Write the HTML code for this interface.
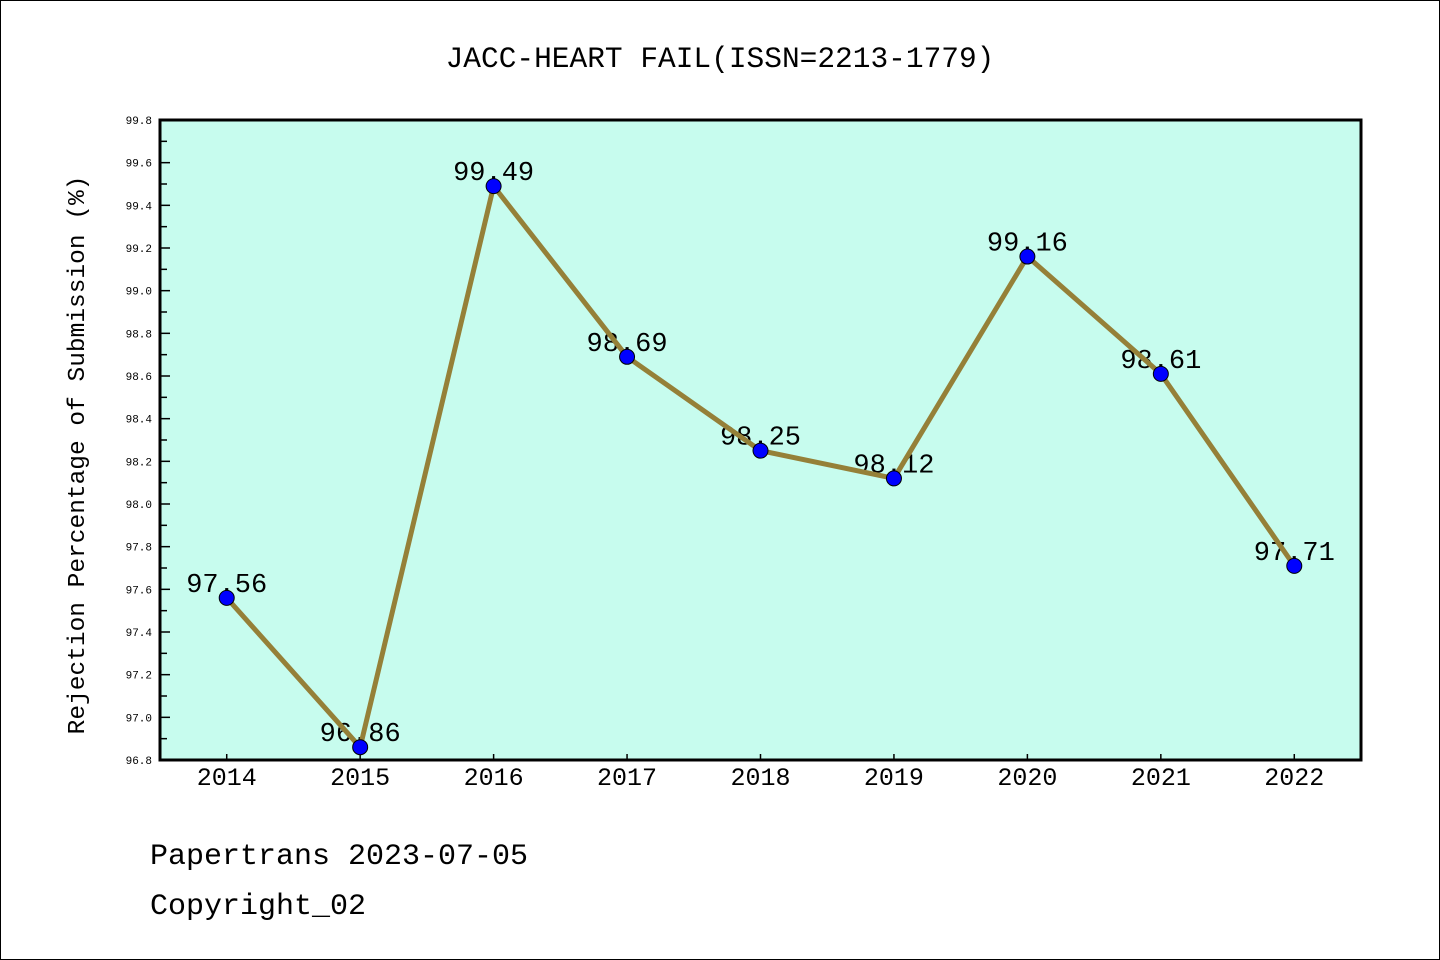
<!DOCTYPE html>
<html><head><meta charset="utf-8"><style>
html,body{margin:0;padding:0;background:#fff;}
svg{display:block;}
text{font-family:"Liberation Mono","WenQuanYi Zen Hei",monospace;fill:#000;}
</style></head><body>
<svg id="chart" width="1440" height="960" xmlns="http://www.w3.org/2000/svg">
<rect x="0.5" y="0.5" width="1439" height="959" fill="#fff" stroke="#000" stroke-width="1"/>
<text x="720" y="67" font-size="29.5" text-anchor="middle">JACC-HEART FAIL(ISSN=2213-1779)</text>
<rect x="160" y="120" width="1201" height="640" fill="#c7fcee"/>
<g id="yaxis"></g>
<g id="xaxis"></g>
<g id="series"></g>
<rect x="160" y="120" width="1201" height="640" fill="none" stroke="#000" stroke-width="3"/>
<text transform="translate(84,455) rotate(-90)" font-size="24.5" text-anchor="middle">Rejection Percentage of Submission (%)</text>
<text x="150" y="864" font-size="30">Papertrans 2023-07-05</text>
<text x="150" y="914" font-size="30">Copyright_02</text>
</svg>
<script>
const years = [2014,2015,2016,2017,2018,2019,2020,2021,2022];
const values = [97.56,96.86,99.49,98.69,98.25,98.12,99.16,98.61,97.71];
const valueLabels = ["97.56","96.86","99.49","98.69","98.25","98.12","99.16","98.61","97.71"];
const yTicks = [96.8,97.0,97.2,97.4,97.6,97.8,98.0,98.2,98.4,98.6,98.8,99.0,99.2,99.4,99.6,99.8];
const yTickLabels = ["96.8","97.0","97.2","97.4","97.6","97.8","98.0","98.2","98.4","98.6","98.8","99.0","99.2","99.4","99.6","99.8"];

const NS="http://www.w3.org/2000/svg";
const X0=160,X1=1361,Y0=120,Y1=760,XMIN=2013.5,XMAX=2022.5,YMIN=96.8,YMAX=99.8;
const xs=v=>X0+(v-XMIN)/(XMAX-XMIN)*(X1-X0);
const ys=v=>Y1-(v-YMIN)/(YMAX-YMIN)*(Y1-Y0);
function mk(tag,attrs,parent){const e=document.createElementNS(NS,tag);for(const k in attrs)e.setAttribute(k,attrs[k]);parent.appendChild(e);return e;}
const ya=document.getElementById('yaxis'),xa=document.getElementById('xaxis'),sg=document.getElementById('series');
yTicks.forEach((t,i)=>{
  const y=ys(t);
  const tk=mk('line',{x1:X0,x2:X0+10,y1:y,y2:y,stroke:'#000','stroke-width':1.5},ya);
  
  
  const lb=mk('text',{x:X0-8,y:y+4,'font-size':11,'text-anchor':'end'},ya);
  lb.textContent=yTickLabels[i];
  
  
  if(i<yTicks.length-1){
    const ym=ys(t+0.1);
    const mt=mk('line',{x1:X0,x2:X0+7,y1:ym,y2:ym,stroke:'#000','stroke-width':1.5},ya);
    
    
  }
});
years.forEach((yr,i)=>{
  const x=xs(yr);
  const tk=mk('line',{x1:x,x2:x,y1:Y1,y2:Y1-6,stroke:'#000','stroke-width':1.5},xa);
  
  
  const lb=mk('text',{x:x,y:Y1+25,'font-size':25,'text-anchor':'middle'},xa);
  lb.textContent=String(yr);
  
  
});
values.forEach((v,i)=>{
  const lb=mk('text',{x:xs(years[i]),y:ys(v)-6,'font-size':27,'text-anchor':'middle'},sg);
  lb.textContent=valueLabels[i];
  
  
});
const pts=values.map((v,i)=>xs(years[i])+','+ys(v)).join(' ');
const pl=mk('polyline',{points:pts,fill:'none',stroke:'#958038','stroke-width':5,'stroke-linejoin':'round'},sg);


values.forEach((v,i)=>{
  const c=mk('circle',{cx:xs(years[i]),cy:ys(v),r:7.5,fill:'#0000ff',stroke:'#000','stroke-width':1},sg);
  
  
});
</script>
</body></html>
